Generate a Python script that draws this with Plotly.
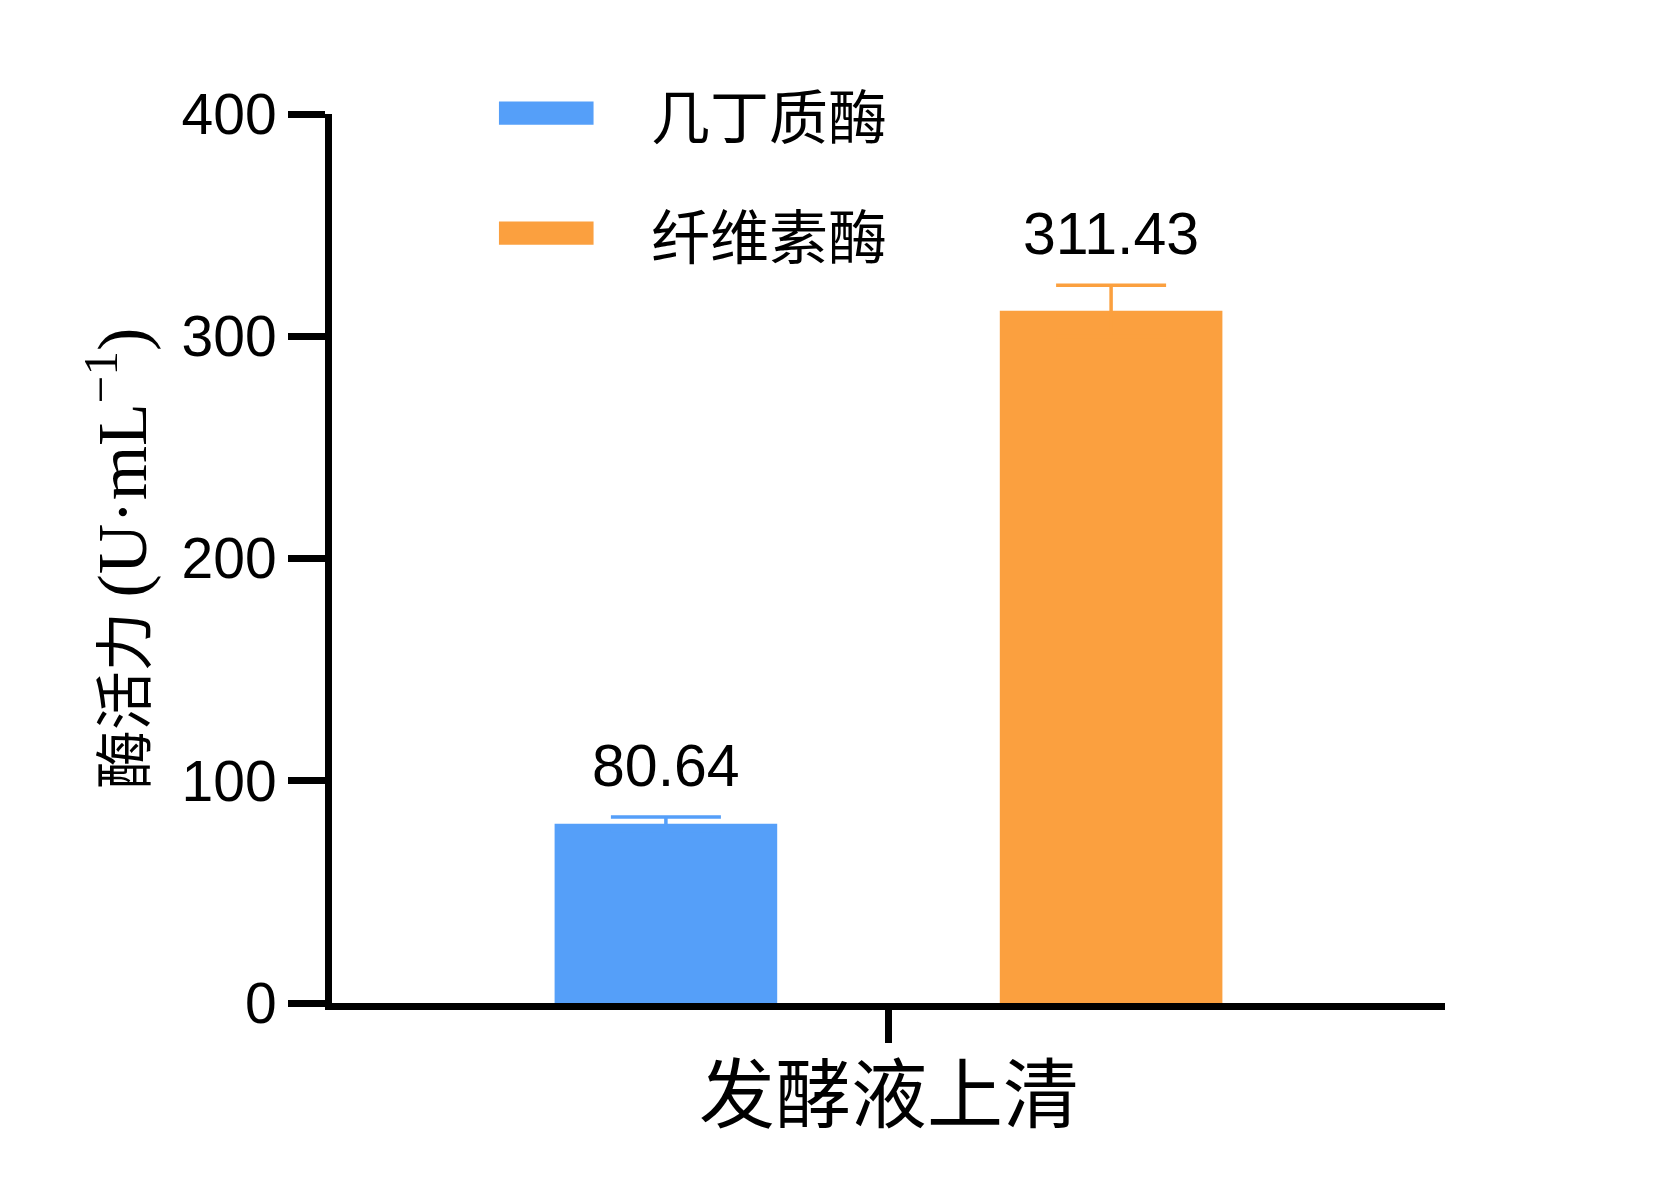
import plotly.graph_objects as go

# data
groups = ["发酵液上清"]
enzymes = ["几丁质酶", "纤维素酶"]
activity = [80.64, 311.43]
errors = [3.0, 11.5]
colors = ["#559ff9", "#fba03f"]
y_ticks = [0, 100, 200, 300, 400]

bargap = 0.2
cjk = "Noto Sans CJK SC"
latin = "Liberation Sans"

fig = go.Figure()
for name, val, err, col in zip(enzymes, activity, errors, colors):
    # symmetric error bar: the lower half is hidden inside the bar of the same colour
    fig.add_trace(go.Bar(
        x=groups, y=[val], name=name,
        marker=dict(color=col, line=dict(width=0)),
        error_y=dict(type="data", array=[err], symmetric=True,
                     color=col, thickness=3.5, width=55),
        showlegend=False))

# value labels above each error bar
n = len(enzymes)
slot = (1 - bargap) / n
for i, (val, err) in enumerate(zip(activity, errors)):
    fig.add_annotation(x=(i - (n - 1) / 2) * slot, y=val + err, xref="x", yref="y",
                       text=f"{val:.2f}", showarrow=False, yanchor="bottom", yshift=16,
                       font=dict(family=latin, size=59, color="black"))

# hand-drawn legend (long flat swatches like the original)
for i, (name, col) in enumerate(zip(enzymes, colors)):
    yc = 1.001 - i * 0.135
    fig.add_shape(type="rect", xref="paper", yref="paper",
                  x0=0.150, x1=0.235, y0=yc - 0.013, y1=yc + 0.013,
                  fillcolor=col, line=dict(width=0))
    fig.add_annotation(xref="paper", yref="paper", x=0.285, y=yc, text=name,
                       showarrow=False, xanchor="left", yanchor="middle",
                       font=dict(family=cjk, size=59, color="black"))

# category name under the single x tick
fig.add_annotation(x=groups[0], y=-0.097, xref="x", yref="paper", text=groups[0],
                   showarrow=False, yanchor="middle",
                   font=dict(family=cjk, size=76, color="black"))

fig.update_layout(
    barmode="group", bargap=bargap, bargroupgap=0.5,
    width=1654, height=1191,
    margin=dict(l=324, r=217, t=106, b=196),
    plot_bgcolor="white", paper_bgcolor="white",
)
fig.update_xaxes(type="category", range=[-0.5, 0.5], showticklabels=False,
                 showline=True, linecolor="black", linewidth=7,
                 ticks="outside", ticklen=33, tickwidth=7, tickcolor="black",
                 showgrid=False, zeroline=False)
fig.update_yaxes(range=[0, 400], tickvals=y_ticks,
                 showline=True, linecolor="black", linewidth=7,
                 ticks="outside", ticklen=37, tickwidth=7, tickcolor="black",
                 tickfont=dict(family=latin, size=57, color="black"),
                 showgrid=False, zeroline=False,
                 title=dict(text="酶活力 <span style='font-size:70px'>(U·mL<sup>−1</sup>)</span>",
                            standoff=18,
                            font=dict(family="Liberation Serif, " + cjk, size=59, color="black")))

fig.write_html("out.html")
